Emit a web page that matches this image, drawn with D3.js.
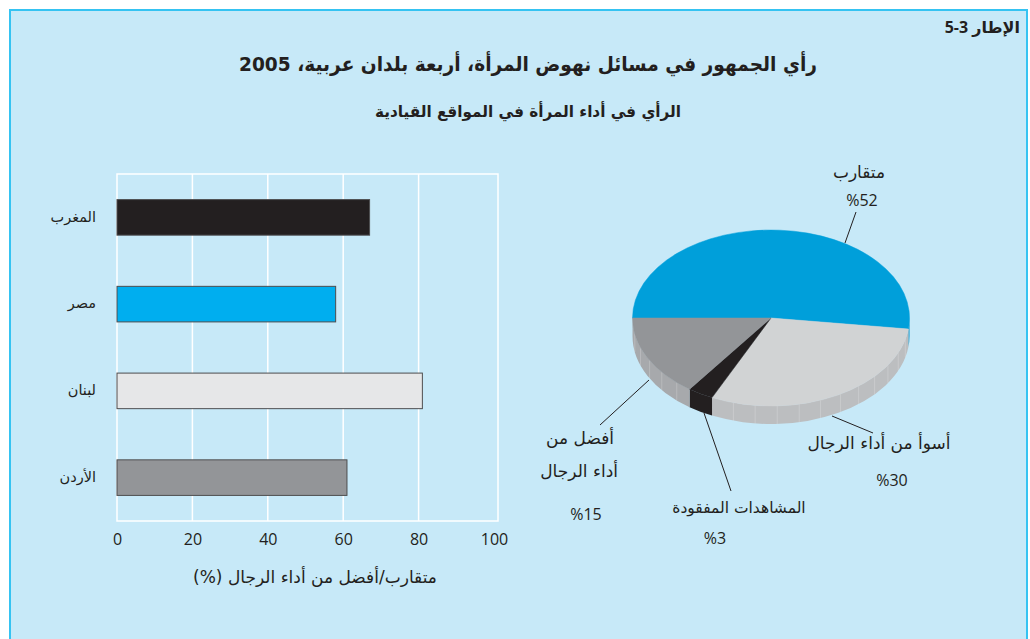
<!DOCTYPE html>
<html>
<head>
<meta charset="utf-8">
<script src="https://cdn.jsdelivr.net/npm/d3@7"></script>
<style>
  body { margin: 0; background: #fff; }
  text { fill: #231f20; }
</style>
</head>
<body>
<div id="chart"></div>
<script>
// data
var countries = ["المغرب", "مصر", "لبنان", "الأردن"];
var barValues = [67, 58, 81, 61];
var barColors = ["#231f20", "#00aeef", "#e6e7e8", "#939598"];
var xTicks = [0, 20, 40, 60, 80, 100];

var pieLabels = [["متقارب"], ["أسوأ من أداء الرجال"], ["المشاهدات المفقودة"], ["أفضل من", "أداء الرجال"]];
var pieValues = [52, 30, 3, 15];
var pieTopColors = ["#009fda", "#d1d3d4", "#231f20", "#939598"];
var pieSideColors = ["#0090c6", "#bcbec0", "#231f20", "#a7a9ac"];

var W = 1030, H = 639;
var arabic = "'DejaVu Sans', sans-serif";
var latin = "'Open Sans', 'DejaVu Sans', sans-serif";

var svg = d3.select("#chart")
  .append("svg")
    .attr("width", W)
    .attr("height", H);

// frame
svg.append("rect")
  .attr("x", 10).attr("y", 10)
  .attr("width", 1017).attr("height", 640)
  .attr("fill", "#c7e9f8")
  .attr("stroke", "#35c3f2")
  .attr("stroke-width", 2);

// titles
svg.append("text")
  .attr("x", 1020).attr("y", 33)
  .attr("direction", "rtl")
  .attr("text-anchor", "start")
  .style("font-family", latin)
  .style("font-size", "16px")
  .style("font-weight", "bold")
  .text("الإطار 3-5");

svg.append("text")
  .attr("x", 528).attr("y", 71)
  .attr("direction", "rtl")
  .attr("text-anchor", "middle")
  .style("font-family", arabic)
  .style("font-size", "20px")
  .style("font-weight", "bold")
  .attr("textLength", 578)
  .attr("lengthAdjust", "spacingAndGlyphs")
  .text("رأي الجمهور في مسائل نهوض المرأة، أربعة بلدان عربية، 2005");

svg.append("text")
  .attr("x", 528).attr("y", 117)
  .attr("direction", "rtl")
  .attr("text-anchor", "middle")
  .style("font-family", arabic)
  .style("font-size", "16px")
  .style("font-weight", "bold")
  .attr("textLength", 306)
  .attr("lengthAdjust", "spacingAndGlyphs")
  .text("الرأي في أداء المرأة في المواقع القيادية");

// ---------- bar chart ----------
var x = d3.scaleLinear()
  .domain([0, 100])
  .range([117, 494]);

var y = d3.scaleBand()
  .domain(countries)
  .range([174, 521])
  .paddingInner(0.59)
  .paddingOuter(0.295);

var barG = svg.append("g");

// plot frame + grid
barG.append("rect")
  .attr("x", x(0)).attr("y", 174)
  .attr("width", 498 - x(0)).attr("height", 521 - 174)
  .attr("fill", "none")
  .attr("stroke", "#fff")
  .attr("stroke-width", 1.5);

barG.selectAll(".grid")
  .data(xTicks.slice(1, -1))
  .enter()
  .append("line")
    .attr("x1", d => x(d)).attr("x2", d => x(d))
    .attr("y1", 174).attr("y2", 521)
    .attr("stroke", "#fff")
    .attr("stroke-width", 1.5);

barG.selectAll(".bar")
  .data(barValues)
  .enter()
  .append("rect")
    .attr("x", x(0))
    .attr("y", (d, i) => y(countries[i]))
    .attr("width", d => x(d) - x(0))
    .attr("height", y.bandwidth())
    .attr("fill", (d, i) => barColors[i])
    .attr("stroke", "#4d4d4f")
    .attr("stroke-width", 1);

barG.selectAll(".cLabel")
  .data(countries)
  .enter()
  .append("text")
    .attr("x", 96)
    .attr("y", d => y(d) + y.bandwidth() / 2)
    .attr("dy", ".3em")
    .attr("direction", "rtl")
    .attr("text-anchor", "start")
    .style("font-family", arabic)
    .style("font-size", "14.5px")
    .text(d => d);

// x axis tick labels
var xAxis = barG.append("g")
  .attr("transform", "translate(0,531)")
  .call(d3.axisBottom(x).tickValues(xTicks).tickSize(0).tickPadding(0));
xAxis.select(".domain").remove();
xAxis.selectAll("text")
  .attr("dy", "0.9em")
  .style("font-family", latin)
  .style("font-size", "16px")
  .style("fill", "#231f20");

barG.append("text")
  .attr("x", 315).attr("y", 583)
  .attr("direction", "rtl")
  .attr("text-anchor", "middle")
  .style("font-family", arabic)
  .style("font-size", "17px")
  .text("متقارب/أفضل من أداء الرجال (%)");

// ---------- 3D pie ----------
var cx = 771, cy = 318, rx = 138.5, ry = 88, depth = 18;

var pie = d3.pie()
  .sort(null)
  .startAngle(-Math.PI / 2)
  .endAngle(1.5 * Math.PI);
var arcs = pie(pieValues);

// d3 angle (clockwise from 12 o'clock) -> point on ellipse
function pt(a, dz) {
  var t = a - Math.PI / 2;
  return [cx + rx * Math.cos(t), cy + ry * Math.sin(t) + (dz || 0)];
}

var pieG = svg.append("g");

// sides: only the front half (t in [0, PI]) is visible
arcs.forEach(function(d, i) {
  var t0 = Math.max(d.startAngle - Math.PI / 2, 0);
  var t1 = Math.min(d.endAngle - Math.PI / 2, Math.PI);
  if (t1 <= t0) return;
  var a0 = t0 + Math.PI / 2, a1 = t1 + Math.PI / 2;
  var p0 = pt(a0), p1 = pt(a1), q0 = pt(a0, depth), q1 = pt(a1, depth);
  var path = "M" + p0 + " A" + rx + "," + ry + " 0 0 1 " + p1 +
             " L" + q1 + " A" + rx + "," + ry + " 0 0 0 " + q0 + " Z";
  pieG.append("path")
    .attr("d", path)
    .attr("fill", pieSideColors[i]);
  // facet lines on the side
  if (i !== 2) {
    for (var a = a0 + 0.12; a < a1 - 0.03; a += 0.16) {
      var u = pt(a), v = pt(a, depth);
      pieG.append("line")
        .attr("x1", u[0]).attr("y1", u[1])
        .attr("x2", v[0]).attr("y2", v[1])
        .attr("stroke", "#fff")
        .attr("stroke-opacity", 0.25)
        .attr("stroke-width", 0.8);
    }
  }
});

// tops
pieG.selectAll(".slice")
  .data(arcs)
  .enter()
  .append("path")
    .attr("d", function(d) {
      var p0 = pt(d.startAngle), p1 = pt(d.endAngle);
      var large = (d.endAngle - d.startAngle) > Math.PI ? 1 : 0;
      return "M" + cx + "," + cy + " L" + p0 +
             " A" + rx + "," + ry + " 0 " + large + " 1 " + p1 + " Z";
    })
    .attr("fill", (d, i) => pieTopColors[i])
    .attr("stroke", (d, i) => pieTopColors[i])
    .attr("stroke-width", 0.5);

// leader lines and labels
var leaders = [
  [[856, 212], [845, 243]],
  [[832, 416], [873, 433]],
  [[704, 413], [731, 491]],
  [[649, 380], [600, 425]]
];
pieG.selectAll(".leader")
  .data(leaders)
  .enter()
  .append("line")
    .attr("x1", d => d[0][0]).attr("y1", d => d[0][1])
    .attr("x2", d => d[1][0]).attr("y2", d => d[1][1])
    .attr("stroke", "#231f20")
    .attr("stroke-width", 1);

var labelPos = [
  {x: 859, y: 178, anchor: "middle", px: 862, py: 206, fs: 17},
  {x: 879, y: 449, anchor: "middle", px: 892, py: 486, fs: 17},
  {x: 739, y: 513, anchor: "middle", px: 715, py: 544, fs: 15.5},
  {x: 614, y: 444, anchor: "start", px: 586, py: 520, fs: 17}
];

labelPos.forEach(function(p, i) {
  pieLabels[i].forEach(function(line, j) {
    pieG.append("text")
      .attr("x", p.x + (j ? 4 : 0)).attr("y", p.y + j * 33)
      .attr("direction", "rtl")
      .attr("text-anchor", p.anchor)
      .style("font-family", arabic)
      .style("font-size", p.fs + "px")
      .text(line);
  });
  pieG.append("text")
    .attr("x", p.px).attr("y", p.py)
    .attr("text-anchor", "middle")
    .style("font-family", latin)
    .style("font-size", "16px")
    .text("%" + pieValues[i]);
});
</script>
</body>
</html>
